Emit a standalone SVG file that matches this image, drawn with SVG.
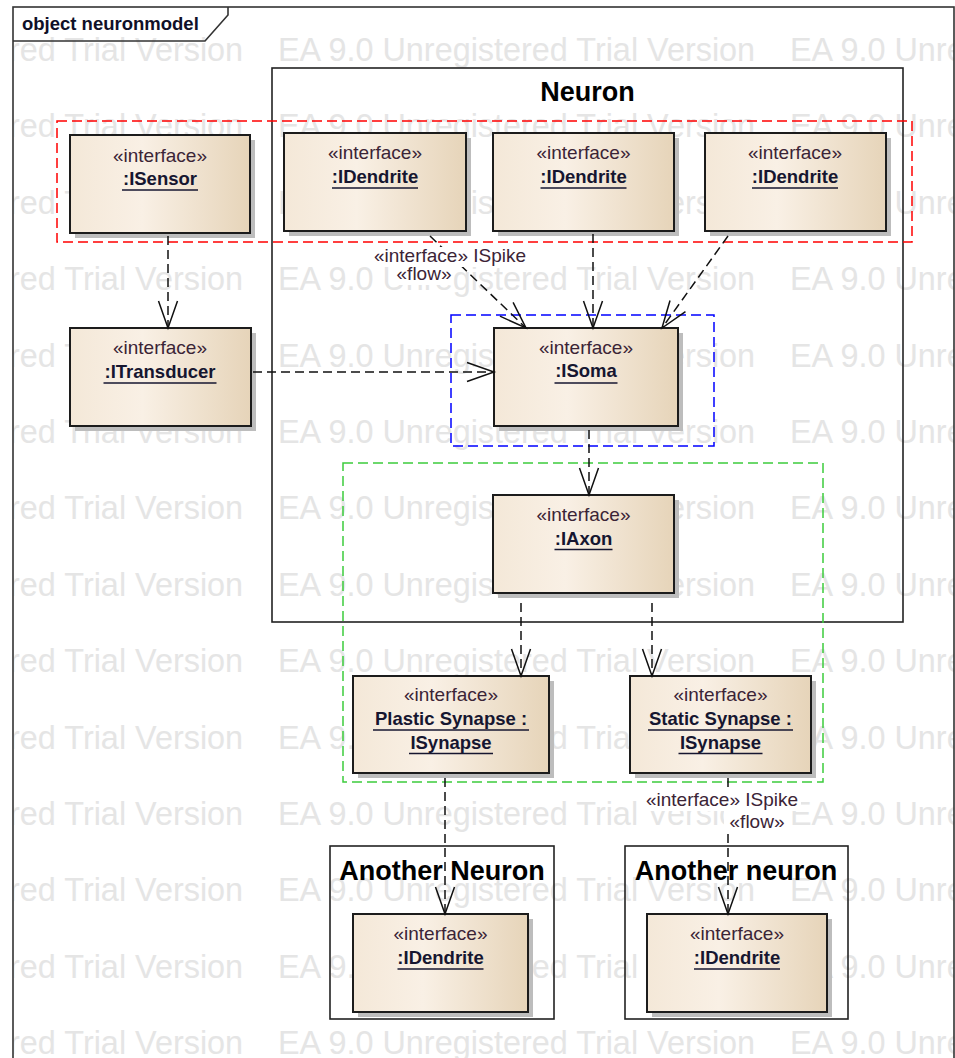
<svg xmlns="http://www.w3.org/2000/svg" width="955" height="1058" viewBox="0 0 955 1058">
<style>
.wm{font-family:"Liberation Sans",Arial,sans-serif;font-size:32.4px;fill:#e5e5e5}
.shadow{fill:#bdbdbd}
.box{fill:url(#boxfill);stroke:#1c1c1c;stroke-width:2}
.st{font-family:"Liberation Sans",Arial,sans-serif;font-size:19px;fill:#3b2436;text-anchor:middle}
.nm{font-family:"Liberation Sans",Arial,sans-serif;font-weight:bold;font-size:18.5px;fill:#161630;text-anchor:middle}
.ul{stroke:#161630;stroke-width:1.6}
.ttl{font-family:"Liberation Sans",Arial,sans-serif;font-weight:bold;font-size:27px;fill:#000;text-anchor:middle}
.cont{fill:none;stroke:#222;stroke-width:1.6}
.frame{fill:none;stroke:#333;stroke-width:1.6}
.grp{fill:none;stroke-width:1.5;stroke-dasharray:10 5}
.conn{fill:none;stroke:#111;stroke-width:1.5;stroke-dasharray:9 5;marker-end:url(#arrow)}
.lbl{font-family:"Liberation Sans",Arial,sans-serif;font-size:19px;fill:#3b2436;text-anchor:middle}
.lblbg{fill:#fff}
</style>
<defs>
<linearGradient id="boxfill" x1="0" y1="0" x2="1" y2="0">
<stop offset="0" stop-color="#f4e8d8"/>
<stop offset="0.4" stop-color="#f9f0e5"/>
<stop offset="1" stop-color="#e6d4b9"/>
</linearGradient>
<marker id="arrow" markerUnits="userSpaceOnUse" orient="auto" overflow="visible" markerWidth="30" markerHeight="22" refX="0" refY="0">
<path d="M-27,-9.5 L0,0 L-27,9.5" fill="none" stroke="#111" stroke-width="1.5" stroke-dasharray="none"/>
</marker>
<clipPath id="fclip"><rect x="14" y="8" width="940" height="1050"/></clipPath>
</defs>
<rect x="0" y="0" width="955" height="1058" fill="#fff"/>
<g id="watermark" clip-path="url(#fclip)">
<text class="wm" x="-234" y="61">EA 9.0 Unregistered Trial Version</text><text class="wm" x="278" y="61">EA 9.0 Unregistered Trial Version</text><text class="wm" x="790" y="61">EA 9.0 Unregistered Trial Version</text>
<text class="wm" x="-234" y="137.4">EA 9.0 Unregistered Trial Version</text><text class="wm" x="278" y="137.4">EA 9.0 Unregistered Trial Version</text><text class="wm" x="790" y="137.4">EA 9.0 Unregistered Trial Version</text>
<text class="wm" x="-234" y="213.8">EA 9.0 Unregistered Trial Version</text><text class="wm" x="278" y="213.8">EA 9.0 Unregistered Trial Version</text><text class="wm" x="790" y="213.8">EA 9.0 Unregistered Trial Version</text>
<text class="wm" x="-234" y="290.2">EA 9.0 Unregistered Trial Version</text><text class="wm" x="278" y="290.2">EA 9.0 Unregistered Trial Version</text><text class="wm" x="790" y="290.2">EA 9.0 Unregistered Trial Version</text>
<text class="wm" x="-234" y="366.6">EA 9.0 Unregistered Trial Version</text><text class="wm" x="278" y="366.6">EA 9.0 Unregistered Trial Version</text><text class="wm" x="790" y="366.6">EA 9.0 Unregistered Trial Version</text>
<text class="wm" x="-234" y="443">EA 9.0 Unregistered Trial Version</text><text class="wm" x="278" y="443">EA 9.0 Unregistered Trial Version</text><text class="wm" x="790" y="443">EA 9.0 Unregistered Trial Version</text>
<text class="wm" x="-234" y="519.4">EA 9.0 Unregistered Trial Version</text><text class="wm" x="278" y="519.4">EA 9.0 Unregistered Trial Version</text><text class="wm" x="790" y="519.4">EA 9.0 Unregistered Trial Version</text>
<text class="wm" x="-234" y="595.8">EA 9.0 Unregistered Trial Version</text><text class="wm" x="278" y="595.8">EA 9.0 Unregistered Trial Version</text><text class="wm" x="790" y="595.8">EA 9.0 Unregistered Trial Version</text>
<text class="wm" x="-234" y="672.2">EA 9.0 Unregistered Trial Version</text><text class="wm" x="278" y="672.2">EA 9.0 Unregistered Trial Version</text><text class="wm" x="790" y="672.2">EA 9.0 Unregistered Trial Version</text>
<text class="wm" x="-234" y="748.6">EA 9.0 Unregistered Trial Version</text><text class="wm" x="278" y="748.6">EA 9.0 Unregistered Trial Version</text><text class="wm" x="790" y="748.6">EA 9.0 Unregistered Trial Version</text>
<text class="wm" x="-234" y="825">EA 9.0 Unregistered Trial Version</text><text class="wm" x="278" y="825">EA 9.0 Unregistered Trial Version</text><text class="wm" x="790" y="825">EA 9.0 Unregistered Trial Version</text>
<text class="wm" x="-234" y="901.4">EA 9.0 Unregistered Trial Version</text><text class="wm" x="278" y="901.4">EA 9.0 Unregistered Trial Version</text><text class="wm" x="790" y="901.4">EA 9.0 Unregistered Trial Version</text>
<text class="wm" x="-234" y="977.8">EA 9.0 Unregistered Trial Version</text><text class="wm" x="278" y="977.8">EA 9.0 Unregistered Trial Version</text><text class="wm" x="790" y="977.8">EA 9.0 Unregistered Trial Version</text>
<text class="wm" x="-234" y="1054.2">EA 9.0 Unregistered Trial Version</text><text class="wm" x="278" y="1054.2">EA 9.0 Unregistered Trial Version</text><text class="wm" x="790" y="1054.2">EA 9.0 Unregistered Trial Version</text>
</g>
<g id="frame">
<rect class="frame" x="13" y="7" width="941" height="1060"/>
<path class="frame" d="M13,41 H205 L228,15 V7"/>
<text x="22" y="30" font-family="Liberation Sans, Arial, sans-serif" font-weight="bold" font-size="18.5" fill="#101028">object neuronmodel</text>
</g>
<g id="neuron-container">
<rect class="cont" x="272" y="68" width="631" height="554"/>
<text class="ttl" x="587.5" y="101">Neuron</text>
</g>
<g id="another-neuron-1">
<rect class="cont" x="330" y="846" width="224" height="173"/>
<text class="ttl" x="442" y="880">Another Neuron</text>
</g>
<g id="another-neuron-2">
<rect class="cont" x="625" y="846" width="223" height="173"/>
<text class="ttl" x="736" y="880">Another neuron</text>
</g>
<g id="groups">
<rect class="grp" x="57" y="121" width="855" height="121" stroke="#ff0000"/>
<rect class="grp" x="451" y="315" width="263" height="131" stroke="#0000ff"/>
<rect class="grp" x="343" y="463" width="480" height="319" stroke="#3ccc3c"/>
</g>
<g id="isensor">
<rect class="shadow" x="75" y="140" width="180" height="98"/>
<rect class="box" x="70" y="135" width="180" height="98"/>
<text class="st" x="160" y="162">«interface»</text>
<text class="nm" x="160" y="185">:ISensor</text>
<line class="ul" x1="122" y1="190" x2="198" y2="190"/>
</g>
<g id="idendrite1">
<rect class="shadow" x="289" y="138" width="182" height="98"/>
<rect class="box" x="284" y="133" width="182" height="98"/>
<text class="st" x="375" y="159">«interface»</text>
<text class="nm" x="375" y="183">:IDendrite</text>
<line class="ul" x1="332" y1="188" x2="418" y2="188"/>
</g>
<g id="idendrite2">
<rect class="shadow" x="498" y="138" width="181" height="98"/>
<rect class="box" x="493" y="133" width="181" height="98"/>
<text class="st" x="583.5" y="159">«interface»</text>
<text class="nm" x="583.5" y="183">:IDendrite</text>
<line class="ul" x1="540.5" y1="188" x2="626.5" y2="188"/>
</g>
<g id="idendrite3">
<rect class="shadow" x="710" y="138" width="181" height="98"/>
<rect class="box" x="705" y="133" width="181" height="98"/>
<text class="st" x="795" y="159">«interface»</text>
<text class="nm" x="795" y="183">:IDendrite</text>
<line class="ul" x1="752" y1="188" x2="838" y2="188"/>
</g>
<g id="itransducer">
<rect class="shadow" x="75" y="333" width="181" height="98"/>
<rect class="box" x="70" y="328" width="181" height="98"/>
<text class="st" x="160" y="354">«interface»</text>
<text class="nm" x="160" y="378">:ITransducer</text>
<line class="ul" x1="103.5" y1="383" x2="216.5" y2="383"/>
</g>
<g id="isoma">
<rect class="shadow" x="499" y="333" width="184" height="98"/>
<rect class="box" x="494" y="328" width="184" height="98"/>
<text class="st" x="586" y="354">«interface»</text>
<text class="nm" x="586" y="377">:ISoma</text>
<line class="ul" x1="554.5" y1="383" x2="617.5" y2="383"/>
</g>
<g id="iaxon">
<rect class="shadow" x="498" y="500" width="181" height="98"/>
<rect class="box" x="493" y="495" width="181" height="98"/>
<text class="st" x="583.5" y="521">«interface»</text>
<text class="nm" x="583.5" y="545">:IAxon</text>
<line class="ul" x1="554.5" y1="549.5" x2="612.5" y2="549.5"/>
</g>
<g id="plastic-synapse">
<rect class="shadow" x="358" y="681" width="196" height="97"/>
<rect class="box" x="353" y="676" width="196" height="97"/>
<text class="st" x="451" y="701">«interface»</text>
<text class="nm" x="451" y="725">Plastic Synapse :</text>
<line class="ul" x1="373" y1="730" x2="529" y2="730"/>
<text class="nm" x="451" y="749">ISynapse</text>
<line class="ul" x1="409" y1="753.5" x2="493" y2="753.5"/>
</g>
<g id="static-synapse">
<rect class="shadow" x="635" y="681" width="181" height="97"/>
<rect class="box" x="630" y="676" width="181" height="97"/>
<text class="st" x="720.5" y="701">«interface»</text>
<text class="nm" x="720.5" y="725">Static Synapse :</text>
<line class="ul" x1="648" y1="730" x2="793" y2="730"/>
<text class="nm" x="720.5" y="749">ISynapse</text>
<line class="ul" x1="678.5" y1="753.5" x2="762.5" y2="753.5"/>
</g>
<g id="idendrite-left">
<rect class="shadow" x="358" y="919" width="175" height="98"/>
<rect class="box" x="353" y="914" width="175" height="98"/>
<text class="st" x="440.5" y="940">«interface»</text>
<text class="nm" x="440.5" y="964">:IDendrite</text>
<line class="ul" x1="397.5" y1="969" x2="483.5" y2="969"/>
</g>
<g id="idendrite-right">
<rect class="shadow" x="652" y="919" width="180" height="98"/>
<rect class="box" x="647" y="914" width="180" height="98"/>
<text class="st" x="737" y="940">«interface»</text>
<text class="nm" x="737" y="964">:IDendrite</text>
<line class="ul" x1="694" y1="969" x2="780" y2="969"/>
</g>
<g id="connectors">
<line class="conn" x1="168" y1="236" x2="168" y2="328"/>
<line class="conn" x1="253" y1="372" x2="494" y2="372"/>
<line class="conn" x1="430" y1="236" x2="526" y2="328"/>
<line class="conn" x1="593" y1="234" x2="593" y2="328"/>
<line class="conn" x1="728" y1="236" x2="662" y2="328"/>
<line class="conn" x1="589" y1="430" x2="589" y2="495"/>
<line class="conn" x1="521" y1="603" x2="521" y2="676"/>
<line class="conn" x1="652" y1="603" x2="652" y2="676"/>
<line class="conn" x1="445" y1="778" x2="445" y2="914"/>
<line class="conn" x1="728" y1="778" x2="728" y2="914"/>
<rect class="lblbg" x="372" y="247" width="156" height="20"/>
<rect class="lblbg" x="396" y="267" width="56" height="18"/>
<text class="lbl" x="450" y="262">«interface» ISpike</text>
<text class="lbl" x="424" y="280">«flow»</text>
<rect class="lblbg" x="643" y="791" width="158" height="20"/>
<rect class="lblbg" x="724" y="811" width="62" height="22"/>
<text class="lbl" x="722" y="806">«interface» ISpike</text>
<text class="lbl" x="757" y="828">«flow»</text>
</g>
</svg>
